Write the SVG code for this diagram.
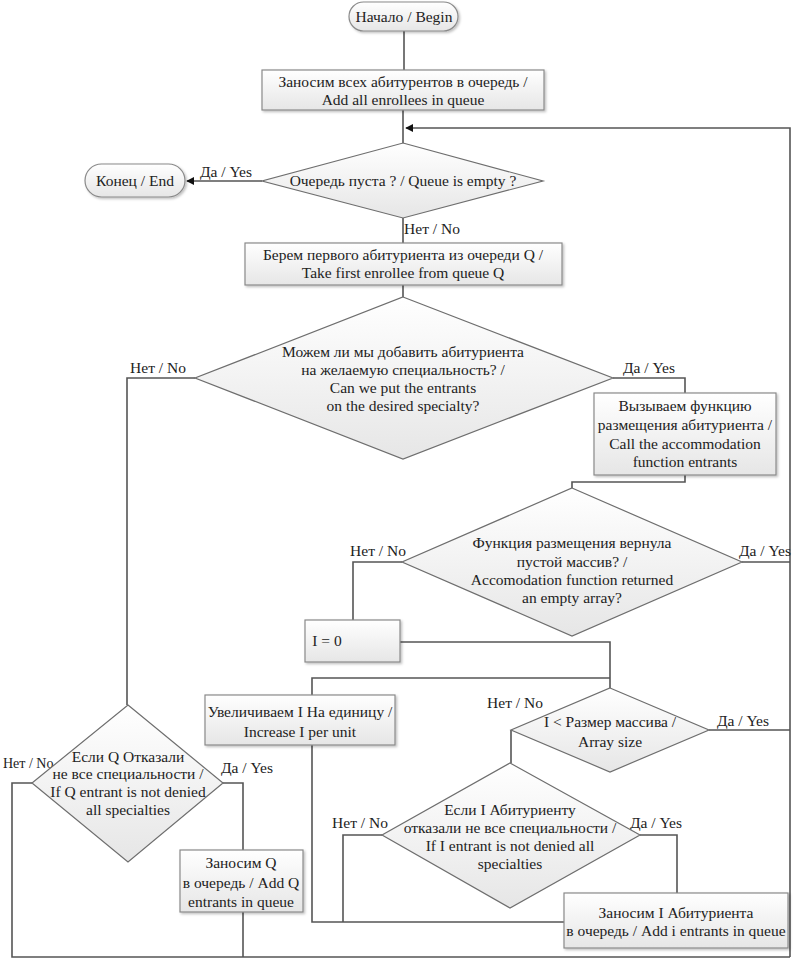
<svg xmlns="http://www.w3.org/2000/svg" width="793" height="960" viewBox="0 0 793 960">
<defs>
<linearGradient id="g" x1="0" y1="0" x2="0" y2="1">
<stop offset="0" stop-color="#ffffff"/>
<stop offset="1" stop-color="#e6e6e6"/>
</linearGradient>
<filter id="sh" x="-10%" y="-10%" width="130%" height="140%">
<feDropShadow dx="1.5" dy="1.5" stdDeviation="1" flood-color="#000" flood-opacity="0.25"/>
</filter>
<marker id="arr" viewBox="0 0 10 10" refX="9" refY="5" markerWidth="8" markerHeight="8" orient="auto" markerUnits="userSpaceOnUse">
<path d="M0,0 L10,5 L0,10 z" fill="#111"/>
</marker>
<style>
.b{fill:url(#g);stroke:#8a8a8a;stroke-width:1.2;filter:url(#sh)}
.d{fill:url(#g);stroke:#6e6e6e;stroke-width:1.2}
text{font-family:"Liberation Serif","DejaVu Serif",serif;font-size:15.5px;fill:#222;text-anchor:middle}
.c{fill:none;stroke:#555;stroke-width:1.6}
</style>
</defs>
<rect width="793" height="960" fill="#fff"/>

<g id="connectors">
<path class="c" d="M404,30 V70"/>
<path class="c" d="M403,110 V143"/>
<path class="c" d="M790,957 V128 H406" marker-end="url(#arr)"/>
<path class="c" d="M262,181 H187" marker-end="url(#arr)"/>
<path class="c" d="M403,218 V243"/>
<path class="c" d="M403,285 V297"/>
<path class="c" d="M613,378 H685 V393"/>
<path class="c" d="M195,378 H127 V705"/>
<path class="c" d="M685,475 V482 H572 V488"/>
<path class="c" d="M402,562 H353 V620"/>
<path class="c" d="M742,562 H790"/>
<path class="c" d="M400,642 H610 V688"/>
<path class="c" d="M312,695 V678 H610"/>
<path class="c" d="M312,745 V922 H564"/>
<path class="c" d="M511,730 V763"/>
<path class="c" d="M709,730 H790"/>
<path class="c" d="M382,835 H343 V922"/>
<path class="c" d="M640,835 H677 V893"/>
<path class="c" d="M32,783 H12 V957 H790"/>
<path class="c" d="M223,783 H243 V850"/>
<path class="c" d="M243,912 V957"/>
</g>

<g id="labels">
<text x="226" y="177">Да / Yes</text>
<text x="432" y="234">Нет / No</text>
<text x="158" y="373">Нет / No</text>
<text x="649" y="373">Да / Yes</text>
<text x="378" y="556">Нет / No</text>
<text x="765" y="556">Да / Yes</text>
<text x="515" y="708">Нет / No</text>
<text x="743" y="726">Да / Yes</text>
<text x="360" y="828">Нет / No</text>
<text x="656" y="828">Да / Yes</text>
<text x="3" y="768" style="text-anchor:start;font-size:14px">Нет / No</text>
<text x="247" y="773">Да / Yes</text>
</g>

<g id="start">
<rect class="b" x="349" y="2" width="109" height="29" rx="14.5"/>
<text x="404" y="22">Начало / Begin</text>
</g>

<g id="add-all">
<rect class="b" x="262" y="70" width="282" height="40"/>
<text x="403" y="87">Заносим всех абитурентов в очередь /</text>
<text x="403" y="105">Add all enrollees in queue</text>
</g>

<g id="queue-empty">
<polygon class="d" points="403,143 543,181 403,218 262,181"/>
<text x="403" y="186">Очередь пуста ? / Queue is empty ?</text>
</g>

<g id="end">
<rect class="b" x="85" y="164" width="100" height="33" rx="16.5"/>
<text x="135" y="186">Конец / End</text>
</g>

<g id="take-first">
<rect class="b" x="245" y="243" width="317" height="42"/>
<text x="403" y="260">Берем первого абитуриента из очереди Q /</text>
<text x="403" y="278">Take first enrollee from queue Q</text>
</g>

<g id="can-put">
<polygon class="d" points="403,297 613,378 403,459 195,378"/>
<text x="403" y="357">Можем ли мы добавить абитуриента</text>
<text x="403" y="375">на желаемую специальность? /</text>
<text x="403" y="393">Can we put the entrants</text>
<text x="403" y="411">on the desired specialty?</text>
</g>

<g id="call-func">
<rect class="b" x="594" y="393" width="182" height="82"/>
<text x="685" y="411">Вызываем функцию</text>
<text x="685" y="430">размещения абитуриента /</text>
<text x="685" y="449">Call the accommodation</text>
<text x="685" y="467">function entrants</text>
</g>

<g id="empty-array">
<polygon class="d" points="572,488 742,562 572,636 402,562"/>
<text x="572" y="548">Функция размещения вернула</text>
<text x="572" y="567">пустой массив? /</text>
<text x="572" y="585">Accomodation function returned</text>
<text x="572" y="603">an empty array?</text>
</g>

<g id="i-zero">
<rect class="b" x="305" y="620" width="95" height="42"/>
<text x="327" y="646">I = 0</text>
</g>

<g id="increase">
<rect class="b" x="205" y="695" width="190" height="50"/>
<text x="300" y="717">Увеличиваем I На единицу /</text>
<text x="300" y="737">Increase I per unit</text>
</g>

<g id="i-less">
<polygon class="d" points="610,688 709,730 610,772 511,730"/>
<text x="610" y="727">I &lt; Размер массива /</text>
<text x="610" y="747">Array size</text>
</g>

<g id="i-denied">
<polygon class="d" points="510,763 640,835 510,908 382,835"/>
<text x="510" y="815">Если I Абитуриенту</text>
<text x="510" y="833">отказали не все специальности /</text>
<text x="510" y="851">If I entrant is not denied all</text>
<text x="510" y="869">specialties</text>
</g>

<g id="add-i">
<rect class="b" x="564" y="893" width="224" height="55"/>
<text x="676" y="918">Заносим I Абитуриента</text>
<text x="676" y="936">в очередь / Add i entrants in queue</text>
</g>

<g id="q-denied">
<polygon class="d" points="128,705 223,783 128,862 32,783"/>
<text x="128" y="762">Если Q Отказали</text>
<text x="128" y="779">не все специальности /</text>
<text x="128" y="797">If Q entrant is not denied</text>
<text x="128" y="815">all specialties</text>
</g>

<g id="add-q">
<rect class="b" x="180" y="850" width="123" height="62"/>
<text x="241" y="868">Заносим Q</text>
<text x="241" y="888">в очередь / Add Q</text>
<text x="241" y="907">entrants in queue</text>
</g>
</svg>
